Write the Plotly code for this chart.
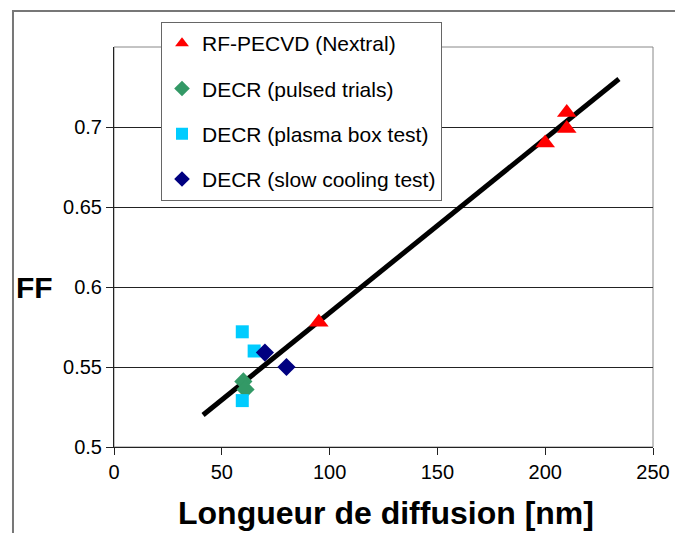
import plotly.graph_objects as go

# Data
rf_x = [95, 200, 210, 210]
rf_y = [0.578, 0.690, 0.699, 0.709]
pulsed_x = [60, 61]
pulsed_y = [0.541, 0.536]
box_x = [59.5, 65, 59.5]
box_y = [0.572, 0.560, 0.529]
slow_x = [70, 80]
slow_y = [0.559, 0.550]
fit_x = [41.3, 234.2]
fit_y = [0.520, 0.730]

x_ticks = [0, 50, 100, 150, 200, 250]
y_ticks = [0.5, 0.55, 0.6, 0.65, 0.7]
y_labels = ["0.5", "0.55", "0.6", "0.65", "0.7"]

FONT = "Liberation Sans, Arial, sans-serif"

fig = go.Figure()
fig.add_trace(go.Scatter(x=fit_x, y=fit_y, mode="lines",
                         line=dict(color="black", width=5), showlegend=False,
                         hoverinfo="skip"))
fig.add_trace(go.Scatter(x=rf_x, y=rf_y, mode="markers", name="RF-PECVD (Nextral)",
                         legendgroup="a",
                         marker=dict(symbol="triangle-up", size=17, color="#FF0000")))
fig.add_trace(go.Scatter(x=pulsed_x, y=pulsed_y, mode="markers", name="DECR (pulsed trials)",
                         legendgroup="b",
                         marker=dict(symbol="diamond", size=14, color="#339966")))
fig.add_trace(go.Scatter(x=box_x, y=box_y, mode="markers", name="DECR (plasma box test)",
                         legendgroup="c",
                         marker=dict(symbol="square", size=13, color="#00CCFF")))
fig.add_trace(go.Scatter(x=slow_x, y=slow_y, mode="markers", name="DECR (slow cooling test)",
                         legendgroup="d",
                         marker=dict(symbol="diamond", size=14, color="#000080")))

fig.update_layout(
    width=675, height=525,
    margin=dict(l=106, r=30, t=39, b=86),
    paper_bgcolor="white", plot_bgcolor="white",
    font=dict(family=FONT, size=20, color="black"),
    showlegend=True,
    legend=dict(x=0.0872, y=1.0625, xanchor="left", yanchor="top",
                bgcolor="white", bordercolor="#666666", borderwidth=1,
                font=dict(family=FONT, size=21, color="black"),
                tracegroupgap=15, itemsizing="constant", itemwidth=30,
                entrywidth=232, entrywidthmode="pixels"),
    xaxis=dict(range=[0, 250], tickvals=x_ticks, showgrid=False, zeroline=False,
               showline=True, linecolor="#222222", linewidth=1,
               ticks="outside", ticklen=7, tickcolor="#222222",
               tickfont=dict(family=FONT, size=20)),
    yaxis=dict(range=[0.5, 0.75], tickvals=y_ticks, ticktext=y_labels,
               showgrid=True, gridcolor="#222222", gridwidth=1, zeroline=False,
               showline=True, linecolor="#222222", linewidth=1,
               ticks="outside", ticklen=7, tickcolor="#222222",
               tickfont=dict(family=FONT, size=20)),
    shapes=[
        dict(type="rect", xref="paper", yref="paper", x0=0, y0=0, x1=1, y1=1,
             line=dict(color="#888888", width=1), layer="below"),
        dict(type="rect", xref="paper", yref="paper", x0=-0.1874, y0=-0.3, x1=1.2, y1=1.09,
             line=dict(color="#777777", width=2), layer="below"),
    ],
    annotations=[
        dict(text="<b>Longueur de diffusion [nm]</b>", xref="paper", yref="paper",
             x=0.505, y=-0.165, xanchor="center", yanchor="middle", showarrow=False,
             font=dict(family=FONT, size=32, color="black")),
        dict(text="<b>FF</b>", xref="paper", yref="paper",
             x=-0.1466, y=0.4, xanchor="center", yanchor="middle", showarrow=False,
             font=dict(family=FONT, size=30, color="black")),
    ],
)

fig.write_html("out.html")
